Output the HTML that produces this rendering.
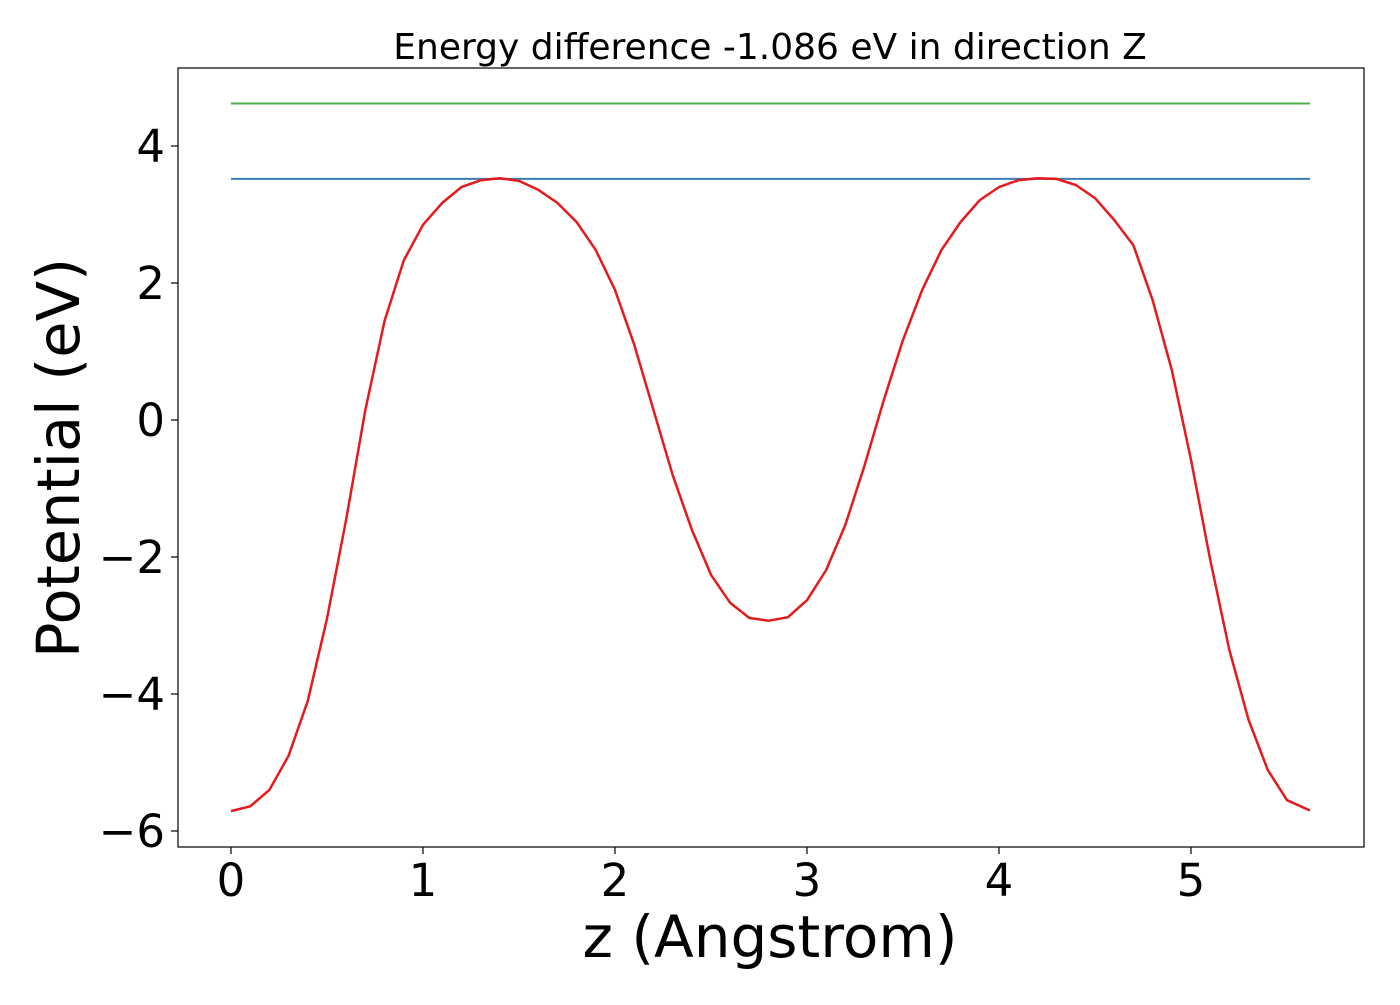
<!DOCTYPE html>
<html><head><meta charset="utf-8"><style>
body{margin:0;background:#fff;}
text{font-family:"DejaVu Sans","Liberation Sans",sans-serif;}
</style></head><body>
<svg id="chart" width="1400" height="1000" xmlns="http://www.w3.org/2000/svg"></svg>
<script>
const zValues=[0,0.1,0.2,0.3,0.4,0.5,0.6,0.7,0.8,0.9,1.0,1.1,1.2,1.3,1.4,1.5,1.6,1.7,1.8,1.9,2.0,2.1,2.2,2.3,2.4,2.5,2.6,2.7,2.8,2.9,3.0,3.1,3.2,3.3,3.4,3.5,3.6,3.7,3.8,3.9,4.0,4.1,4.2,4.3,4.4,4.5,4.6,4.7,4.8,4.9,5.0,5.1,5.2,5.3,5.4,5.5,5.62];
const potential=[-5.71,-5.64,-5.4,-4.9,-4.1,-2.9,-1.45,0.15,1.45,2.33,2.85,3.17,3.4,3.5,3.53,3.49,3.36,3.17,2.89,2.48,1.9,1.1,0.15,-0.8,-1.6,-2.26,-2.67,-2.89,-2.93,-2.88,-2.63,-2.19,-1.53,-0.66,0.29,1.17,1.9,2.48,2.89,3.21,3.4,3.5,3.53,3.52,3.43,3.24,2.92,2.55,1.75,0.73,-0.58,-2.04,-3.36,-4.38,-5.11,-5.55,-5.7];
const levelBlue=3.52;
const levelGreen=4.62;
const xTicks=[0,1,2,3,4,5];
const yTicks=[4,2,0,-2,-4,-6];
const yTickLabels=["4","2","0","\u22122","\u22124","\u22126"];

const svg=document.getElementById('chart');
const NS='http://www.w3.org/2000/svg';
const X=v=>231+v*192, Y=v=>420-v*68.5;
function mk(t,a,txt){const e=document.createElementNS(NS,t);for(const k in a)e.setAttribute(k,a[k]);if(txt!==undefined)e.textContent=txt;svg.appendChild(e);return e;}

let fr=mk('rect',{x:178,y:68,width:1186,height:779,fill:'none',stroke:'#000','stroke-width':1.2});



xTicks.forEach(v=>{
 let l=mk('line',{x1:X(v),x2:X(v),y1:847,y2:854,stroke:'#000','stroke-width':1.2});
 
 
 let t=mk('text',{x:X(v),y:896,'font-size':45,'text-anchor':'middle'},String(v));
 
 
});
yTicks.forEach((v,i)=>{
 let l=mk('line',{x1:171,x2:178,y1:Y(v),y2:Y(v),stroke:'#000','stroke-width':1.2});
 
 
 let t=mk('text',{x:165,y:Y(v)+16,'font-size':45,'text-anchor':'end'},yTickLabels[i]);
 
 
});

const zMax=zValues[zValues.length-1];
let g=mk('line',{x1:X(0),x2:X(zMax),y1:Y(levelGreen),y2:Y(levelGreen),stroke:'#4daf4a','stroke-width':2});


let b=mk('line',{x1:X(0),x2:X(zMax),y1:Y(levelBlue),y2:Y(levelBlue),stroke:'#377eb8','stroke-width':2});



let pts=zValues.map((z,i)=>X(z).toFixed(1)+','+Y(potential[i]).toFixed(1)).join(' ');
let p=mk('polyline',{points:pts,fill:'none',stroke:'#e41a1c','stroke-width':2.5,'stroke-linejoin':'round'});



let tt=mk('text',{x:770,y:59,'font-size':36,'text-anchor':'middle'},'Energy difference -1.086 eV in direction Z');


let xl=mk('text',{x:770,y:957,'font-size':58,'text-anchor':'middle'},'z (Angstrom)');


let yl=mk('text',{x:0,y:0,'font-size':59,'text-anchor':'middle',transform:'translate(79,458) rotate(-90)'},'Potential (eV)');


</script>
</body></html>
